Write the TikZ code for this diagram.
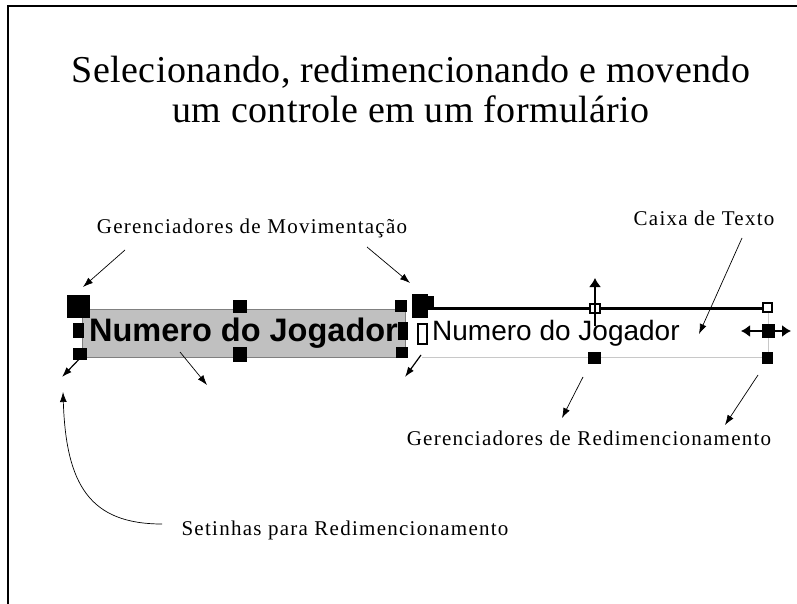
\documentclass[tikz,border=0pt]{standalone}
\usepackage{fontspec}
\setmainfont{Liberation Serif}
\newfontfamily\arialf{Liberation Sans}
\newfontfamily\lblfont[LetterSpace=6]{Liberation Serif}
\newfontfamily\titlefont[LetterSpace=1]{Liberation Serif}
\usetikzlibrary{arrows.meta}
\definecolor{boxgray}{RGB}{192,192,192}
\definecolor{linegray}{RGB}{200,200,200}
\begin{document}
\begin{tikzpicture}[x=1pt,y=-1pt,
  lbl/.style={font=\lblfont\fontsize{21}{24}\selectfont, inner sep=0pt},
  ptr/.style={-{Latex[length=10pt,width=7pt]}, line width=0.7pt},
  hnd/.style={fill=black},
  hhol/.style={fill=white, draw=black, line width=1.5pt}]
\useasboundingbox (0,0) rectangle (797,604);
\fill[white] (0,0) rectangle (797,604);
% frame
\draw[line width=2.2pt] (8,604) -- (8,6) -- (797,6);
% title
\node[font=\titlefont\fontsize{38}{40}\selectfont, align=center, inner sep=0pt] (title) at (411,90)
  {Selecionando, redimencionando e movendo\\um controle em um formulário};
% labels
\node[lbl] (lmov) at (252,228) {Gerenciadores de Movimentação};
\node[lbl] (lcaixa) at (704,218) {Caixa de Texto};
\node[lbl] (lred) at (589,438) {Gerenciadores de Redimencionamento};
\node[lbl] (lset) at (345,530) {Setinhas para Redimencionamento};
% gray selected control
\node[draw=gray, fill=boxgray, minimum width=323pt, minimum height=48pt, inner sep=0pt,
  font=\arialf\bfseries\fontsize{32.5}{34}\selectfont] (gbox) at (243.5,333) {Numero do Jogador};
% white text box
\node[minimum width=346pt, minimum height=49pt, inner sep=0pt] (wbox) at (595,333) {};
\draw[linegray, line width=1pt] (wbox.north east) -- (wbox.south east) -- (wbox.south west);
\draw[line width=3pt] (wbox.north west) -- (wbox.north east);
\node[anchor=west, inner sep=0pt, font=\arialf\fontsize{28}{32}\selectfont] (wtext) at (432,333) {Numero do Jogador};
% handles on gray box
\fill[hnd] (67,295) rectangle (90,318);
\fill[hnd] (233,300) rectangle (247,313);
\fill[hnd] (233,347) rectangle (247,362);
\fill[hnd] (395,300) rectangle (407,312);
\fill[hnd] (73,323) rectangle (84,338);
\fill[hnd] (73,348) rectangle (87,360);
\fill[hnd] (398,322) rectangle (408,340);
\fill[hnd] (396,347) rectangle (408,358);
% handles on white box
\fill[hnd] (412,294) rectangle (428,318);
\fill[hnd] (428,296) rectangle (434,310);
\draw[hhol] (418,324) rectangle (427,344);
\draw[hhol] (590,304) rectangle (600,313);
\draw[hhol] (763,303) rectangle (772,312);
\fill[hnd] (762,324) rectangle (775,338);
\fill[hnd] (762,352) rectangle (773,364);
\fill[hnd] (588,352) rectangle (601,364);
% resize cursors
\coordinate (vc0) at (595,326);
\coordinate (vc1) at (595,278);
\draw[-{Latex[length=9pt,width=12pt]}, line width=1.5pt] (vc0) -- (vc1);
\coordinate (hc0) at (741,331);
\coordinate (hc1) at (791,331);
\draw[{Latex[length=9pt,width=12pt]}-{Latex[length=9pt,width=12pt]}, line width=1.5pt] (hc0) -- (hc1);
% pointer arrows
\coordinate (a1s) at (125,250); \coordinate (a1e) at (83,287);
\draw[ptr] (a1s) -- (a1e);
\coordinate (a2s) at (367,247); \coordinate (a2e) at (410,283);
\draw[ptr] (a2s) -- (a2e);
\coordinate (a3s) at (180,352); \coordinate (a3e) at (207,385);
\draw[ptr] (a3s) -- (a3e);
\coordinate (a4s) at (86,352); \coordinate (a4e) at (62,377);
\draw[ptr, line width=1.2pt] (a4s) -- (a4e);
\coordinate (a5s) at (421,355); \coordinate (a5e) at (405,377);
\draw[ptr, line width=1.2pt] (a5s) -- (a5e);
\coordinate (a6s) at (742,238); \coordinate (a6e) at (699,334);
\draw[ptr] (a6s) -- (a6e);
\coordinate (a7s) at (583,377); \coordinate (a7e) at (562,418);
\draw[ptr] (a7s) -- (a7e);
\coordinate (a8s) at (758,375); \coordinate (a8e) at (725,425);
\draw[ptr] (a8s) -- (a8e);
% curved arrow
\coordinate (c0) at (162,524);
\coordinate (c1) at (63,392);
\draw[ptr] (c0) .. controls (90,524) and (66,485) .. (c1);
\end{tikzpicture}
\end{document}
